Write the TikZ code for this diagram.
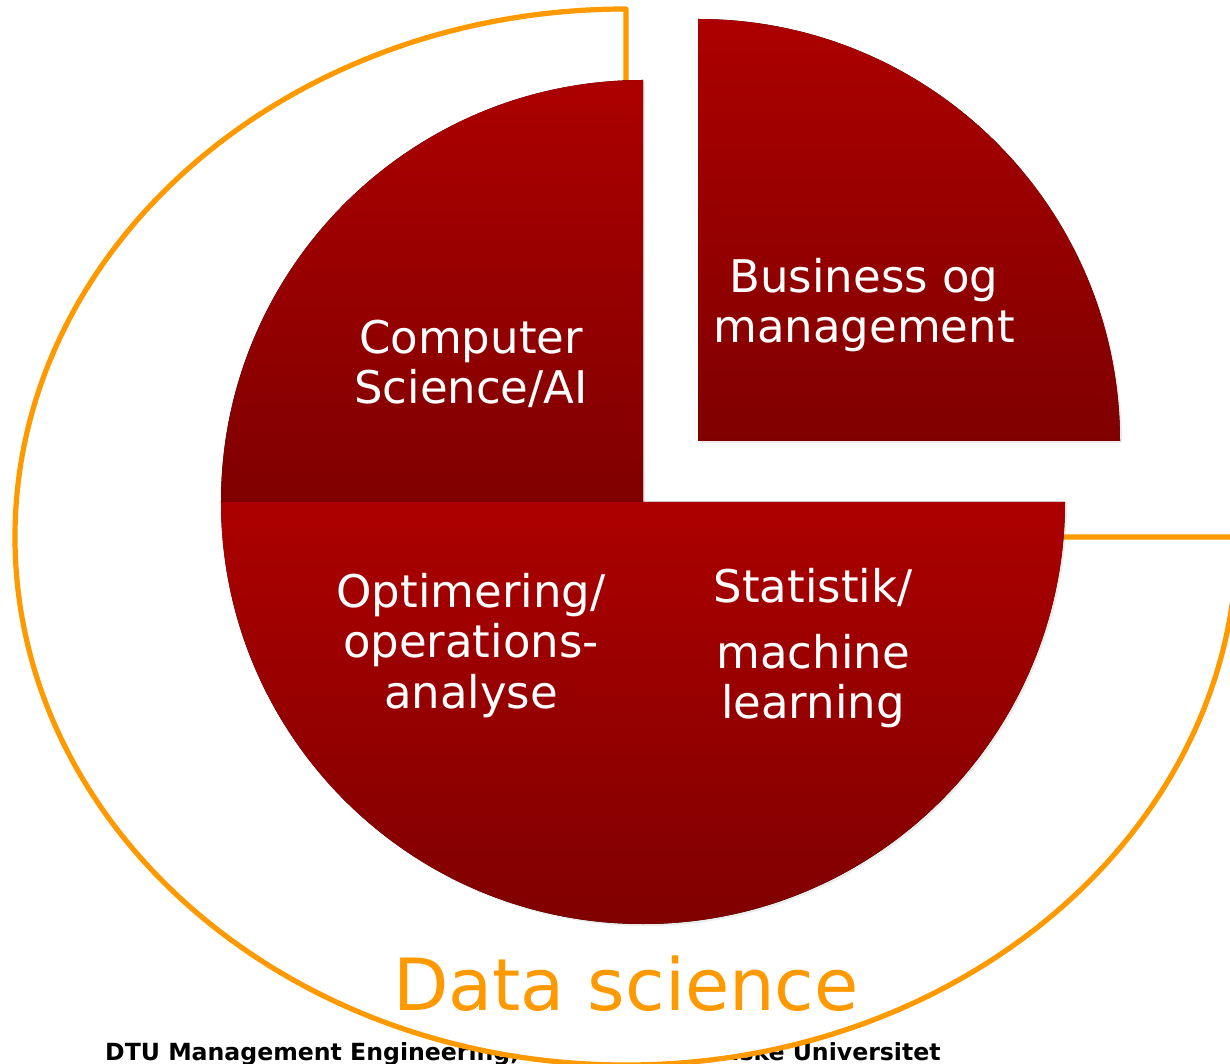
\documentclass[tikz,border=0pt]{standalone}
\usepackage{fontspec}
\setmainfont{DejaVu Sans}
\usetikzlibrary{shadows}
\definecolor{dtured}{RGB}{172,0,0}
\definecolor{dtudark}{RGB}{128,0,0}
\definecolor{dsorange}{RGB}{255,153,0}
\tikzset{
  quarter/.style={top color=dtured, bottom color=dtudark, draw=none,
    drop shadow={shadow xshift=2pt, shadow yshift=-2pt, opacity=0.15}},
  field/.style={text=white, align=center, inner sep=0pt, anchor=base,
    font=\fontsize{45}{50}\selectfont},
}
\begin{document}
\begin{tikzpicture}[x=1pt, y=1pt]
  \useasboundingbox (-643,-562) rectangle (587,502);
  % footer, partly hidden behind the outline
  \node[anchor=base west, inner sep=0pt, font=\bfseries\fontsize{23.6}{23.6}\selectfont]
    (footer) at (-538,-558) {DTU Management Engineering, Danmarks Tekniske Universitet};
  % data science outline
  \coordinate (ds) at (-17,-35);
  \draw[dsorange, line width=5.2pt, fill=white, line join=round]
    (ds) -- ++(0,528) arc[start angle=90, end angle=360, x radius=611, y radius=528] -- cycle;
  % the four quarters
  \fill[quarter] (0,0) -- (0,422) arc[start angle=90, end angle=180, radius=422] -- cycle;
  \fill[quarter] (0,0) -- (-422,0) arc[start angle=180, end angle=270, radius=422] -- cycle;
  \fill[quarter] (0,0) -- (0,-422) arc[start angle=270, end angle=360, radius=422] -- cycle;
  \begin{scope}[shift={(55,61)}]
    \fill[quarter] (0,0) -- (422,0) arc[start angle=0, end angle=90, radius=422] -- cycle;
  \end{scope}
  % base = last line
  \draw
    (-172,98) node[field] (cs){Computer\\Science/AI}
    (221,159) node[field] (business){Business og\\management}
    (-172,-206) node[field] (optim){Optimering/\\operations-\\analyse}
    (170,-216) node[field] (stat){Statistik/\\[16pt]machine\\learning};
  \node[anchor=base, inner sep=0pt, text=dsorange, font=\fontsize{72}{72}\selectfont]
    (title) at (-17,-508) {Data science};
\end{tikzpicture}
\end{document}
